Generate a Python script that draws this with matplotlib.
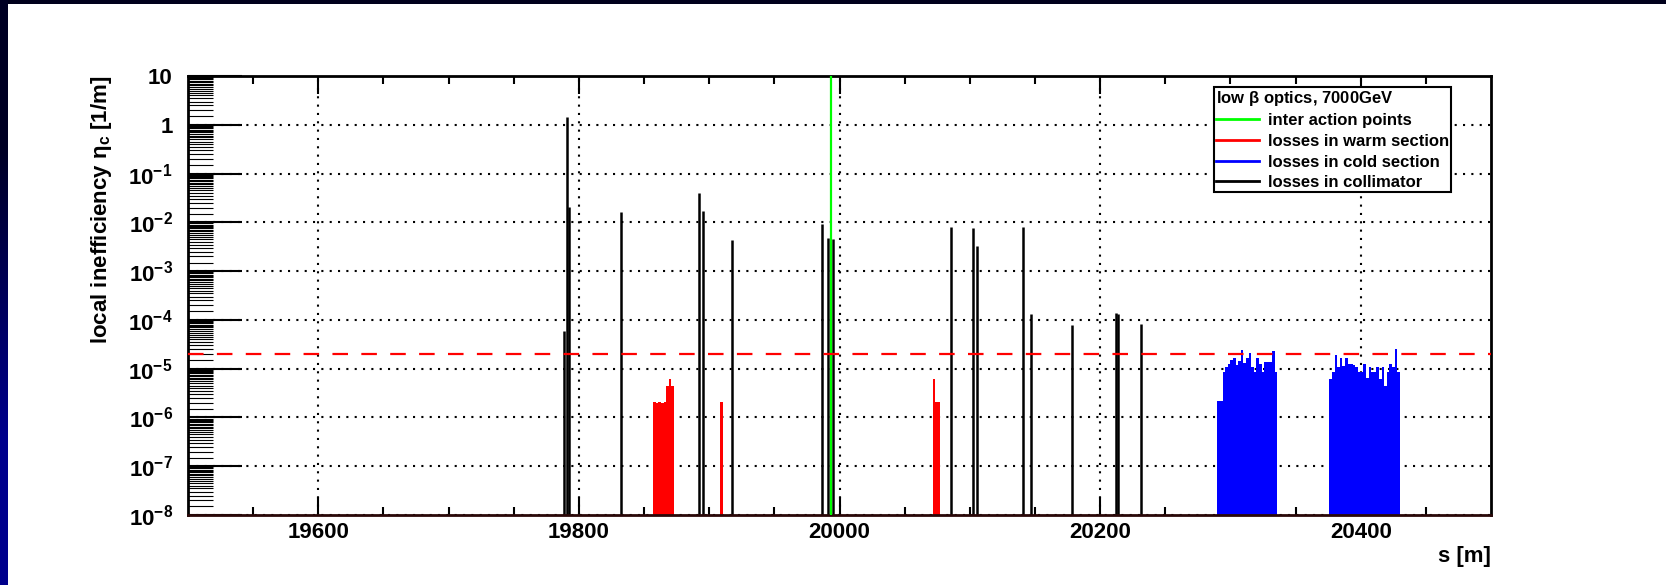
import numpy as np
import matplotlib
matplotlib.use("Agg")
from matplotlib import pyplot as plt
from matplotlib.lines import Line2D
from matplotlib.ticker import FixedLocator, FuncFormatter

plt.rcParams['font.family'] = ['Liberation Sans', 'DejaVu Sans']
plt.rcParams['font.weight'] = 'bold'
plt.rcParams['mathtext.fontset'] = 'custom'
plt.rcParams['mathtext.rm'] = 'Liberation Sans:bold'
plt.rcParams['mathtext.bf'] = 'Liberation Sans:bold'
plt.rcParams['mathtext.it'] = 'Liberation Sans'

# losses in collimators: position s [m], local inefficiency
coll_s = [19788.6, 19790.6, 19792.6, 19832.3, 19891.9, 19895.5, 19917.2,
          19986.7, 19990.8, 19994.9, 20085.9, 20102.5, 20105.8, 20140.6,
          20147.2, 20178.1, 20211.9, 20213.7, 20231.1]
coll_eta = [5.8e-5, 1.46, 2.1e-2, 1.6e-2, 4.0e-2, 1.7e-2, 4.3e-3,
            9.3e-3, 4.7e-3, 4.5e-3, 7.9e-3, 7.6e-3, 3.3e-3, 7.9e-3,
            1.3e-4, 7.9e-5, 1.4e-4, 1.3e-4, 8.1e-5]

# losses in warm sections (bin left edges, 2 m bins)
warm_s = [19857, 19859, 19861, 19863, 19865, 19867, 19869, 19871,
          19908.5,
          20071.5, 20073.5, 20075.5]
warm_eta = [2.1e-6, 2.0e-6, 2.1e-6, 2.0e-6, 2.1e-6, 4.4e-6, 6.2e-6, 4.4e-6,
            2.1e-6,
            6.2e-6, 2.1e-6, 2.1e-6]

# losses in cold sections, two blocks of 2 m bins
cold1_start = 20290
cold1_eta = [2.2e-6, 2.2e-6, 8.5e-6, 1.07e-5, 1.25e-5, 1.5e-5, 1.65e-5, 1.2e-5,
             1.45e-5, 2.4e-5, 1.3e-5, 1.65e-5, 2.1e-5, 1.07e-5, 8.7e-6, 1.65e-5,
             1.25e-5, 8.6e-6, 1.4e-5, 1.4e-5, 1.4e-5, 2.3e-5, 8.5e-6]
cold2_start = 20376
cold2_eta = [6.2e-6, 8.5e-6, 1.9e-5, 1.07e-5, 1.65e-5, 1.15e-5, 1.65e-5, 1.25e-5,
             1.25e-5, 1.2e-5, 1.07e-5, 8.7e-6, 8.7e-6, 1.25e-5, 6.3e-6, 1.1e-5,
             8.7e-6, 8.7e-6, 1.07e-5, 6.2e-6, 1.07e-5, 4.5e-6, 8.7e-6, 1.25e-5,
             1.07e-5, 2.5e-5, 8.5e-6]

ip_s = 19993.6
threshold = 2e-5
bin_w = 2.0
ymin, ymax = 1e-8, 10

W, H = 1666, 585
fig = plt.figure(figsize=(W / 100, H / 100), dpi=100)
fig.patch.set_facecolor('white')

# slide frame: dark top strip and blue left strip
top = fig.add_axes([0, 1 - 4 / H, 1, 4 / H])
top.set_axis_off()
top.add_patch(plt.Rectangle((0, 0), 1, 1, color='#00001c', transform=top.transAxes))
side = fig.add_axes([0, 0, 8 / W, 1])
side.imshow([[0.0], [1.0]], cmap=matplotlib.colors.LinearSegmentedColormap.from_list(
    'fr', ['#000024', '#00008c']), aspect='auto', interpolation='bilinear',
    extent=[0, 1, 1, 0])
side.set_axis_off()

ax = fig.add_axes([188 / W, 1 - 515 / H, (1491 - 188) / W, (515 - 76) / H])
ax.set_yscale('log')
ax.set_xlim(19500, 20500)
ax.set_ylim(ymin, ymax)

ax.bar(warm_s, warm_eta, width=bin_w, align='edge', bottom=ymin,
       color='#ff0000', linewidth=0)
c1 = cold1_start + bin_w * np.arange(len(cold1_eta))
c2 = cold2_start + bin_w * np.arange(len(cold2_eta))
ax.bar(c1, cold1_eta, width=bin_w, align='edge', bottom=ymin,
       color='#0000ff', linewidth=0)
ax.bar(c2, cold2_eta, width=bin_w, align='edge', bottom=ymin,
       color='#0000ff', linewidth=0)
ax.vlines(coll_s, ymin, coll_eta, color='black', lw=1.8)
ax.vlines(ip_s, ymin, ymax, color='#00ff00', lw=1.6, zorder=3)
ax.axhline(threshold, color='#ff0000', lw=1.6, ls=(0, (7, 6)), zorder=5)

# axes, ticks and grid
ax.set_axisbelow(True)
ax.grid(True, which='major', color='black', ls=(0, (1, 3)), lw=1.5)
ax.xaxis.set_major_locator(FixedLocator([19600, 19800, 20000, 20200, 20400]))
ax.xaxis.set_minor_locator(FixedLocator(np.arange(19550, 20500, 50)))
ax.yaxis.set_major_locator(FixedLocator([10.0 ** k for k in range(-8, 2)]))
subs = np.arange(1.5, 10, 0.5)
ax.yaxis.set_minor_locator(FixedLocator([s * 10.0 ** k for k in range(-8, 1) for s in subs]))


def ylab(v, pos):
    k = int(round(np.log10(v)))
    if k == 1:
        return '10'
    if k == 0:
        return '1'
    return r'$10^{%d}$' % k


ax.yaxis.set_major_formatter(FuncFormatter(ylab))
ax.tick_params(axis='x', which='major', length=13, width=1.5, direction='in',
               top=True, labelsize=16, pad=5)
ax.tick_params(axis='x', which='minor', length=5.5, width=1.5, direction='in', top=True)
ax.tick_params(axis='y', which='major', length=39, width=1.5, direction='in',
               labelsize=16, pad=11)
ax.tick_params(axis='y', which='minor', length=18, width=0.8, direction='in')
for sp in ax.spines.values():
    sp.set_linewidth(2)
ax.spines['bottom'].set_color('#2a0808')

ax.set_ylabel(r'local inefficiency $\eta_{\mathrm{c}}$ [1/m]', fontsize=16,
              fontweight='bold', loc='top', labelpad=10)
ax.set_xlabel('s [m]', fontsize=16, fontweight='bold', loc='right', labelpad=2)

handles = [Line2D([], [], color='#00ff00', lw=2),
           Line2D([], [], color='#ff0000', lw=2),
           Line2D([], [], color='#0000ff', lw=2),
           Line2D([], [], color='black', lw=2)]
labels = ['inter action points', 'losses in warm section',
          'losses in cold section', 'losses in collimator']
leg = ax.legend(handles, labels, title=r'low $\beta$ optics, 7000GeV',
                alignment='left', loc='upper left',
                bbox_to_anchor=(1214 / W, 1 - 87 / H), bbox_transform=fig.transFigure,
                borderaxespad=0, fancybox=False, framealpha=1, edgecolor='black',
                prop={'size': 12, 'weight': 'bold'},
                title_fontproperties={'size': 12, 'weight': 'bold'},
                handlelength=2.6, handletextpad=0.55, labelspacing=0.34,
                borderpad=0.1)
leg.get_frame().set_linewidth(1.5)
leg.set_zorder(10)

fig.savefig('out.png', dpi=100)
